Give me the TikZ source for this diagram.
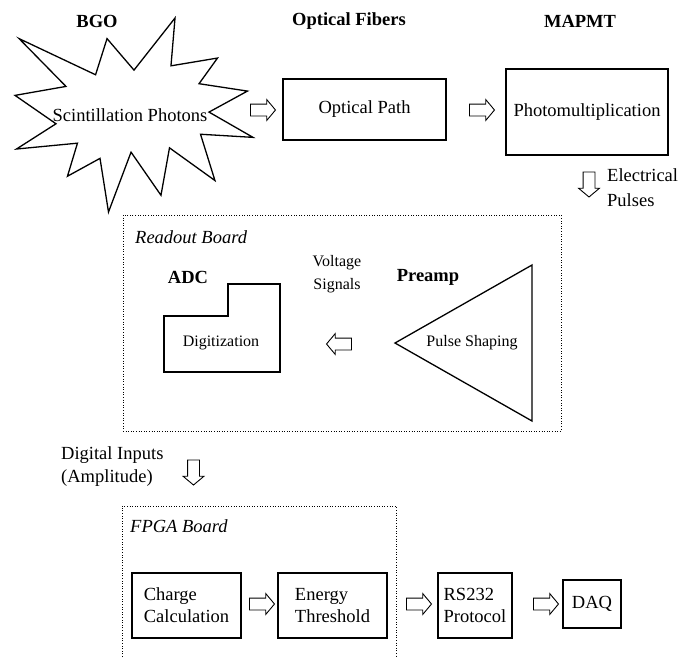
\documentclass[tikz,border=0pt]{standalone}
\usepackage{fontspec}
\setmainfont{Liberation Serif}
\usetikzlibrary{shapes.arrows}
\newcommand\mainsz{\fontsize{18.5}{22}\selectfont}
\newcommand\smallsz{\fontsize{16}{23}\selectfont}
\begin{document}
\begin{tikzpicture}[x=1pt,y=-1pt,font=\mainsz,
  box/.style={draw,line width=2.2pt,inner sep=0pt},
  head/.style={font=\mainsz\bfseries},
  board/.style={line width=1pt,dash pattern=on 1pt off 1.6pt},
  thin/.style={line width=1.3pt},
  blk/.style={single arrow,draw,line width=0.9pt,inner xsep=0pt,inner ysep=5.5pt,
    minimum height=25pt,single arrow head extend=4.5pt,single arrow tip angle=100}]
\useasboundingbox (0,0) rectangle (683,657);
% top row
\node[head] (bgo) at (97,21) {BGO};
\node[head] (fib) at (349,21) {Optical Fibers};
\node[head] (pmt) at (580,21) {MAPMT};
\begin{scope}[shift={(15,18)},x=1.1019pt,y=-0.89815pt]
\draw[thin] (108,58)--(145.22,0)--(141.55,53.25)--(183.80,44.57)--(167.02,73.15)
  --(210.97,81.37)--(176.07,104.75)--(216,132.90)--(168.37,129.42)--(181.45,180.95)
  --(140.20,144.57)--(132.47,197.37)--(105.32,149.35)--(84.85,216)--(77.15,156.27)
  --(47.62,176.17)--(56.67,139.37)--(1.35,145.87)--(37.22,117.75)--(0,86.15)
  --(46.27,76.17)--(3.70,22.95)--(73.12,63.20)--(83.52,22.95)--cycle;
\end{scope}
\node (photons) at (130,115) {Scintillation Photons};
\node[box,minimum width=163pt,minimum height=61pt] (path) at (364.5,109.5) {Optical Path};
\node[box,minimum width=162pt,minimum height=86pt] (pmul) at (587,112) {Photomultiplication};
\node[blk] (a1) at (260.5,110) {};
\node[blk] (a2) at (479.5,110) {};
\node[blk,rotate=-90] (a3) at (589,182) {};
\node[inner sep=0pt,anchor=west,align=left,font=\fontsize{18.5}{25}\selectfont] (pulses) at (607,187.5) {Electrical\\Pulses};
% readout board
\node[board,draw,minimum width=438pt,minimum height=216pt] (readout) at (342,323) {};
\node[inner sep=0pt,anchor=west,font=\mainsz\itshape] (rlbl) at (135,237) {Readout Board};
\node[head] (adc) at (188,277) {ADC};
\draw[thin] (164,316)--(228,316)--(228,284)--(280,284)--(280,372)--(164,372)--cycle;
\node[font=\smallsz] (digit) at (221,343) {Digitization};
\node[blk,rotate=180] (a4) at (341.5,344) {};
\node[font=\smallsz,align=center] (volt) at (337,274.5) {Voltage\\Signals};
\node[head] (pre) at (428,277) {Preamp};
\draw[thin] (395,343)--(532,265)--(532,421)--cycle;
\node[font=\smallsz] (shape) at (472,343) {Pulse Shaping};
% fpga board
\node[inner sep=0pt,anchor=west,align=left,font=\fontsize{18.5}{23}\selectfont] (dig) at (61,466.5) {Digital Inputs\\(Amplitude)};
\node[blk,rotate=-90] (a5) at (193.5,470) {};
\draw[board] (122,657) |- (396,506) -- (396,657);
\node[inner sep=0pt,anchor=west,font=\mainsz\itshape] (flbl) at (130,526) {FPGA Board};
\node[box,minimum width=109pt,minimum height=65pt,align=left] (charge) at (186.5,605.5) {Charge\\Calculation};
\node[box,minimum width=109pt,minimum height=65pt,align=left] (energy) at (332.5,605.5) {Energy\\Threshold};
\node[box,minimum width=74pt,minimum height=65pt,align=left] (rs) at (475,605.5) {RS232\\Protocol};
\node[box,minimum width=58pt,minimum height=48pt] (daq) at (592,604) {DAQ};
\node[blk] (a6) at (259.5,604) {};
\node[blk] (a7) at (416.5,604) {};
\node[blk] (a8) at (543.5,604) {};
\end{tikzpicture}
\end{document}
